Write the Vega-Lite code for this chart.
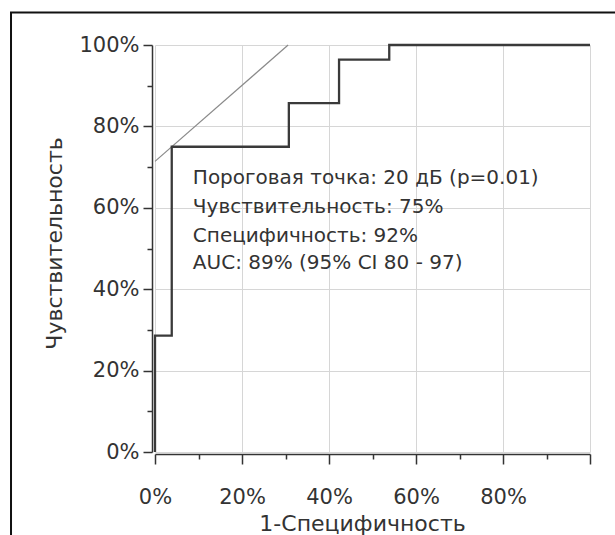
{
  "$schema": "https://vega.github.io/schema/vega-lite/v6.json",
  "width": 435,
  "height": 407,
  "autosize": "none",
  "padding": {"left": 155, "top": 45, "right": 25, "bottom": 83},
  "background": "white",
  "config": {
    "view": {"stroke": null},
    "font": "DejaVu Sans",
    "axis": {
      "domainColor": "#333333",
      "tickColor": "#333333",
      "domainWidth": 1.5,
      "tickWidth": 1.5,
      "gridColor": "#d6d6d6",
      "gridWidth": 1,
      "labelColor": "#333333",
      "titleColor": "#333333",
      "labelFont": "DejaVu Sans",
      "titleFont": "DejaVu Sans",
      "labelFontSize": 21,
      "titleFontSize": 22,
      "titleFontWeight": "normal",
      "labelFlush": false,
      "labelOverlap": false
    }
  },
  "datasets": {
    "roc": [
      {"fpr": 0, "tpr": 0, "o": 0},
      {"fpr": 0, "tpr": 0.2857, "o": 1},
      {"fpr": 0.0385, "tpr": 0.2857, "o": 2},
      {"fpr": 0.0385, "tpr": 0.75, "o": 3},
      {"fpr": 0.3077, "tpr": 0.75, "o": 4},
      {"fpr": 0.3077, "tpr": 0.8571, "o": 5},
      {"fpr": 0.4231, "tpr": 0.8571, "o": 6},
      {"fpr": 0.4231, "tpr": 0.9643, "o": 7},
      {"fpr": 0.5385, "tpr": 0.9643, "o": 8},
      {"fpr": 0.5385, "tpr": 1, "o": 9},
      {"fpr": 1, "tpr": 1, "o": 10}
    ],
    "tangent": [
      {"fpr": 0, "tpr": 0.714},
      {"fpr": 0.306, "tpr": 1}
    ],
    "notes": [
      {"fpr": 0.087, "tpr": 0.673, "label": "Пороговая точка: 20 дБ (p=0.01)"},
      {"fpr": 0.087, "tpr": 0.602, "label": "Чувствительность: 75%"},
      {"fpr": 0.087, "tpr": 0.531, "label": "Специфичность: 92%"},
      {"fpr": 0.087, "tpr": 0.465, "label": "AUC: 89% (95% CI 80 - 97)"}
    ]
  },
  "layer": [
    {
      "data": {"values": [{}]},
      "mark": {"type": "rect", "fillOpacity": 0, "stroke": "#111111", "strokeWidth": 2, "clip": false},
      "encoding": {
        "x": {"datum": -0.331, "type": "quantitative", "scale": {"domain": [0, 1], "nice": false}},
        "x2": {"datum": 1.2},
        "y": {"datum": 1.08, "type": "quantitative", "scale": {"domain": [0, 1], "nice": false}},
        "y2": {"datum": -0.3}
      }
    },
    {
      "data": {"name": "tangent"},
      "mark": {"type": "line", "color": "#8a8a8a", "strokeWidth": 1.2},
      "encoding": {
        "x": {"field": "fpr", "type": "quantitative", "scale": {"domain": [0, 1], "nice": false}},
        "y": {"field": "tpr", "type": "quantitative", "scale": {"domain": [0, 1], "nice": false}}
      }
    },
    {
      "data": {"name": "roc"},
      "mark": {"type": "line", "color": "#3a3a3a", "strokeWidth": 2.3},
      "encoding": {
        "order": {"field": "o", "type": "quantitative"},
        "x": {
          "field": "fpr",
          "type": "quantitative",
          "scale": {"domain": [0, 1], "nice": false},
          "axis": {
            "title": "1-Специфичность",
            "values": [0, 0.05, 0.1, 0.15, 0.2, 0.25, 0.3, 0.35, 0.4, 0.45, 0.5, 0.55, 0.6, 0.65, 0.7, 0.75, 0.8, 0.85, 0.9, 0.95, 1],
            "labelExpr": "(round(datum.value*100) % 20 == 0 && datum.value < 0.99) ? format(datum.value, '.0%') : ''",
            "grid": true,
            "gridOpacity": {"condition": {"test": "round(datum.value*100) % 20 != 0", "value": 0}, "value": 1},
            "tickSize": {"condition": {"test": "round(datum.value*100) % 20 == 0", "value": 10}, "value": 5},
            "offset": 2,
            "labelPadding": 22,
            "titlePadding": 6,
            "titleX": 207
          }
        },
        "y": {
          "field": "tpr",
          "type": "quantitative",
          "scale": {"domain": [0, 1], "nice": false},
          "axis": {
            "title": "Чувствительность",
            "values": [0, 0.05, 0.1, 0.15, 0.2, 0.25, 0.3, 0.35, 0.4, 0.45, 0.5, 0.55, 0.6, 0.65, 0.7, 0.75, 0.8, 0.85, 0.9, 0.95, 1],
            "labelExpr": "round(datum.value*100) % 20 == 0 ? format(datum.value, '.0%') : ''",
            "grid": true,
            "gridOpacity": {"condition": {"test": "round(datum.value*100) % 20 != 0", "value": 0}, "value": 1},
            "tickSize": {"condition": {"test": "round(datum.value*100) % 20 == 0", "value": 9}, "value": 5},
            "offset": 3,
            "labelPadding": 4,
            "titlePadding": 12,
            "titleY": 198
          }
        }
      }
    },
    {
      "data": {"name": "notes"},
      "mark": {"type": "text", "align": "left", "baseline": "middle", "fontSize": 20, "color": "#333333", "font": "DejaVu Sans"},
      "encoding": {
        "x": {"field": "fpr", "type": "quantitative", "scale": {"domain": [0, 1], "nice": false}},
        "y": {"field": "tpr", "type": "quantitative", "scale": {"domain": [0, 1], "nice": false}},
        "text": {"field": "label"}
      }
    }
  ]
}
